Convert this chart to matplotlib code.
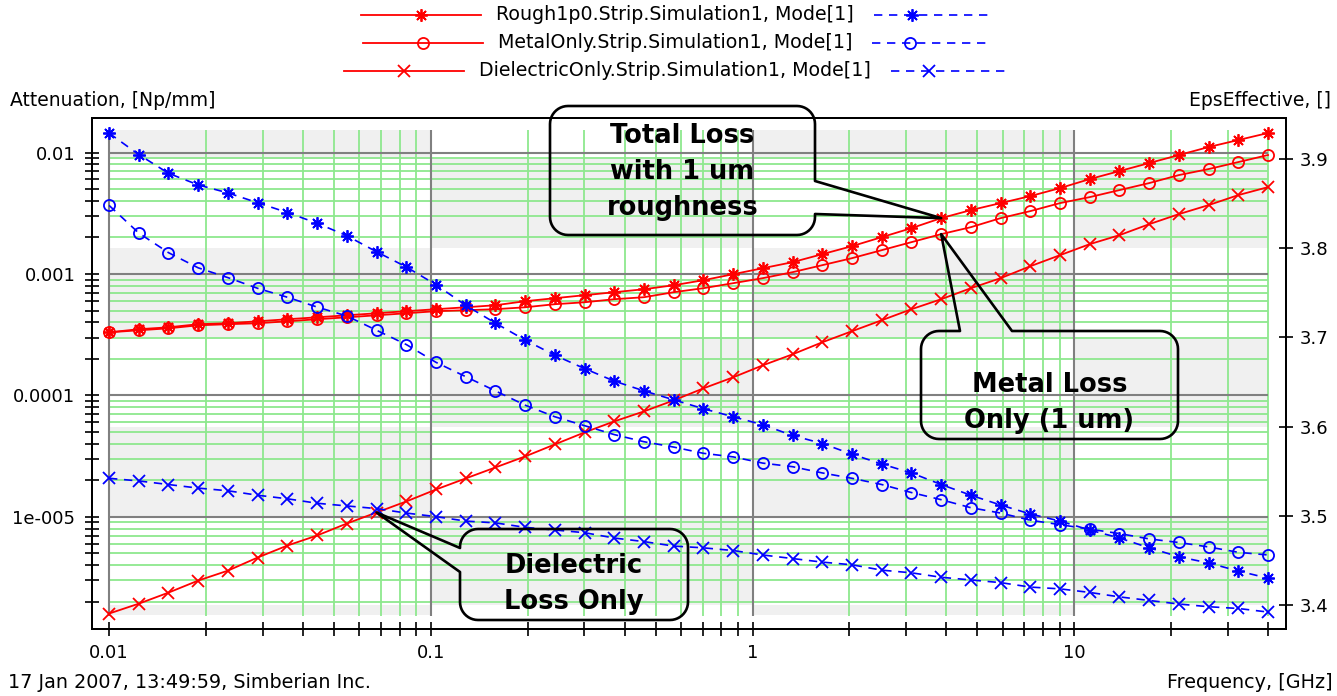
import numpy as np
import matplotlib
matplotlib.use('Agg')
import matplotlib.pyplot as plt
import matplotlib.transforms as mtransforms
from matplotlib.patches import Rectangle, Polygon
from matplotlib.ticker import FixedLocator, FixedFormatter, NullFormatter, NullLocator

# frequency points, GHz
freq = [0.01, 0.01237, 0.0153, 0.01892, 0.02341, 0.02896, 0.03583, 0.04432, 0.05482, 0.06782,
        0.08389, 0.1038, 0.1283, 0.1588, 0.1964, 0.2429, 0.3005, 0.3717, 0.4597, 0.5687,
        0.7035, 0.8703, 1.076, 1.331, 1.647, 2.037, 2.520, 3.118, 3.857, 4.771,
        5.902, 7.300, 9.031, 11.17, 13.82, 17.10, 21.14, 26.15, 32.35, 40.0]

# attenuation, Np/mm (left axis)
att_rough = [3.31e-4, 3.51e-4, 3.64e-4, 3.86e-4, 3.93e-4, 4.08e-4, 4.24e-4, 4.40e-4, 4.57e-4, 4.75e-4,
             4.94e-4, 5.13e-4, 5.32e-4, 5.53e-4, 5.97e-4, 6.32e-4, 6.69e-4, 7.08e-4, 7.49e-4, 8.08e-4,
             8.89e-4, 9.96e-4, 1.116e-3, 1.251e-3, 1.456e-3, 1.695e-3, 2.010e-3, 2.385e-3, 2.884e-3, 3.357e-3,
             3.835e-3, 4.379e-3, 5.097e-3, 6.047e-3, 7.038e-3, 8.194e-3, 9.537e-3, 1.110e-2, 1.268e-2, 1.448e-2]
att_metal = [3.31e-4, 3.44e-4, 3.57e-4, 3.78e-4, 3.86e-4, 3.93e-4, 4.08e-4, 4.24e-4, 4.40e-4, 4.57e-4,
             4.75e-4, 4.94e-4, 5.03e-4, 5.13e-4, 5.32e-4, 5.64e-4, 5.85e-4, 6.20e-4, 6.44e-4, 7.08e-4,
             7.64e-4, 8.40e-4, 9.24e-4, 1.035e-3, 1.182e-3, 1.350e-3, 1.571e-3, 1.829e-3, 2.129e-3, 2.430e-3,
             2.884e-3, 3.294e-3, 3.835e-3, 4.296e-3, 4.908e-3, 5.606e-3, 6.524e-3, 7.311e-3, 8.349e-3, 9.537e-3]
att_diel = [1.60e-6, 1.93e-6, 2.38e-6, 2.99e-6, 3.61e-6, 4.63e-6, 5.81e-6, 7.03e-6, 8.82e-6, 1.087e-5,
            1.340e-5, 1.682e-5, 2.073e-5, 2.555e-5, 3.147e-5, 3.953e-5, 4.963e-5, 6.117e-5, 7.39e-5, 9.11e-5,
            1.144e-4, 1.41e-4, 1.77e-4, 2.18e-4, 2.74e-4, 3.38e-4, 4.16e-4, 5.13e-4, 6.20e-4, 7.64e-4,
            9.24e-4, 1.159e-3, 1.429e-3, 1.761e-3, 2.089e-3, 2.573e-3, 3.112e-3, 3.692e-3, 4.464e-3, 5.19e-3]

# effective permittivity (right axis)
eps_rough = [3.929, 3.905, 3.884, 3.871, 3.862, 3.851, 3.840, 3.828, 3.814, 3.796,
             3.779, 3.759, 3.736, 3.716, 3.697, 3.680, 3.665, 3.651, 3.640, 3.630,
             3.620, 3.611, 3.602, 3.590, 3.581, 3.569, 3.558, 3.548, 3.535, 3.523,
             3.512, 3.502, 3.494, 3.484, 3.475, 3.464, 3.454, 3.447, 3.438, 3.430]
eps_metal = [3.848, 3.817, 3.795, 3.778, 3.767, 3.755, 3.745, 3.734, 3.724, 3.708,
             3.692, 3.672, 3.656, 3.640, 3.624, 3.611, 3.601, 3.591, 3.583, 3.577,
             3.570, 3.566, 3.559, 3.555, 3.548, 3.542, 3.535, 3.526, 3.518, 3.509,
             3.503, 3.495, 3.490, 3.485, 3.480, 3.474, 3.470, 3.465, 3.459, 3.456]
eps_diel = [3.542, 3.539, 3.535, 3.531, 3.528, 3.523, 3.519, 3.514, 3.511, 3.508,
            3.503, 3.499, 3.494, 3.492, 3.487, 3.484, 3.481, 3.475, 3.471, 3.466,
            3.464, 3.461, 3.456, 3.452, 3.448, 3.445, 3.439, 3.436, 3.431, 3.428,
            3.425, 3.420, 3.418, 3.414, 3.409, 3.405, 3.401, 3.398, 3.396, 3.392]

series_labels = ['Rough1p0.Strip.Simulation1, Mode[1]',
                 'MetalOnly.Strip.Simulation1, Mode[1]',
                 'DielectricOnly.Strip.Simulation1, Mode[1]']

x_ticks = [0.01, 0.1, 1, 10]
x_ticklabels = ['0.01', '0.1', '1', '10']
y_ticks = [1e-5, 1e-4, 1e-3, 1e-2]
y_ticklabels = ['1e-005', '0.0001', '0.001', '0.01']
eps_ticks = [3.4, 3.5, 3.6, 3.7, 3.8, 3.9]
eps_ticklabels = ['3.4', '3.5', '3.6', '3.7', '3.8', '3.9']

GREEN = '#8ee88e'
DARK = '#808080'
BAND = '#f0f0f0'

plt.rcParams['font.family'] = 'DejaVu Sans'
W, H = 1337, 696
fig = plt.figure(figsize=(W / 100, H / 100), dpi=100)
ax = fig.add_axes([92 / W, 1 - 629 / H, (1286 - 92) / W, (629 - 118) / H])
ax.set_xscale('log')
ax.set_yscale('log')
ax.set_xlim(0.00885, 45.5)
ax.set_ylim(1.194e-6, 0.01925)
ax2 = ax.twinx()
ax2.set_ylim(3.373, 3.946)

# grid area bounds
gx0, gx1 = 0.01, 40
gy0, gy1 = 1.54e-6, 0.0153
ey0, ey1 = 3.389, 3.9325

# checkerboard background
band_tr = mtransforms.blended_transform_factory(ax.transData, ax2.transData)
col_edges = [gx0, 0.1, 1, 10, gx1]
row_edges = [ey0] + eps_ticks + [ey1]
for c in range(len(col_edges) - 1):
    for r in range(len(row_edges) - 1):
        if (r + c) % 2 == 0:
            ax.add_patch(Rectangle((col_edges[c], row_edges[r]), col_edges[c + 1] - col_edges[c],
                                   row_edges[r + 1] - row_edges[r], transform=band_tr,
                                   fc=BAND, ec='none', zorder=0))

x_minor = [m * 10.0 ** k for k in range(-2, 2) for m in range(2, 10) if m * 10.0 ** k <= gx1 * 1.001]
y_minor = [m * 10.0 ** k for k in range(-7, -1) for m in range(2, 10)]
y_minor_grid = [v for v in y_minor if gy0 < v < gy1]
ax.vlines(x_minor, gy0, gy1, colors=GREEN, lw=1.3, zorder=1)
ax.hlines(y_minor_grid, gx0, gx1, colors=GREEN, lw=1.3, zorder=1)
ax.vlines(x_ticks, gy0, gy1, colors=DARK, lw=1.5, zorder=1.5)
ax.hlines(y_ticks, gx0, gx1, colors=DARK, lw=1.5, zorder=1.5)

markers = [(8, 2, 0), 'o', 'x']
msizes = [9, 8, 9]
att_series = [att_rough, att_metal, att_diel]
eps_series = [eps_rough, eps_metal, eps_diel]
DASH = (0, (5, 4))

for att, mk, ms in zip(att_series, markers, msizes):
    ax.plot(freq, att, color='red', lw=1.3, marker=mk, ms=ms, mfc='none', mew=1.3, zorder=5)
for eps, mk, ms in zip(eps_series, markers, msizes):
    ax2.plot(freq, eps, color='blue', lw=1.2, ls=DASH, marker=mk, ms=ms, mfc='none', mew=1.3, zorder=5)

# ticks
ax.xaxis.set_major_locator(FixedLocator(x_ticks))
ax.xaxis.set_major_formatter(FixedFormatter(x_ticklabels))
ax.xaxis.set_minor_locator(FixedLocator(x_minor))
ax.xaxis.set_minor_formatter(NullFormatter())
ax.yaxis.set_major_locator(FixedLocator(y_ticks))
ax.yaxis.set_major_formatter(FixedFormatter(y_ticklabels))
ax.yaxis.set_minor_locator(FixedLocator(y_minor))
ax.yaxis.set_minor_formatter(NullFormatter())
ax.tick_params(which='both', direction='inout', length=10, width=1.2, labelsize=13, top=False, right=False)
ax.tick_params(axis='x', pad=6)
ax.tick_params(axis='y', pad=7)
ax2.yaxis.set_major_locator(FixedLocator(eps_ticks))
ax2.yaxis.set_major_formatter(FixedFormatter(eps_ticklabels))
ax2.yaxis.set_minor_locator(NullLocator())
ax2.tick_params(axis='y', direction='inout', length=10, width=1.2, labelsize=13, pad=5)
for a in (ax, ax2):
    for s in a.spines.values():
        s.set_linewidth(1.4)
        s.set_color('black')

fig.text(10 / W, 1 - 100 / H, 'Attenuation, [Np/mm]', fontsize=13.5, va='center', ha='left')
fig.text(1331 / W, 1 - 100 / H, 'EpsEffective, []', fontsize=13.5, va='center', ha='right')
fig.text(8 / W, 1 - 683 / H, '17 Jan 2007, 13:49:59, Simberian Inc.', fontsize=13.8, va='center', ha='left')
fig.text(1333 / W, 1 - 683 / H, 'Frequency, [GHz]', fontsize=13.8, va='center', ha='right')

# overlay in pixel coordinates for legend and callouts
ov = fig.add_axes([0, 0, 1, 1], zorder=10)
ov.set_xlim(0, W)
ov.set_ylim(H, 0)
ov.axis('off')
ov.patch.set_visible(False)


def to_px(a, x, y):
    return ov.transData.inverted().transform(a.transData.transform((x, y)))


def callout(x0, y0, x1, y1, side, b1, b2, tip, text, cy, r=18):
    def arc(cx, cyy, a0, a1):
        t = np.linspace(a0, a1, 12)
        return list(zip(cx + r * np.cos(t), cyy + r * np.sin(t)))
    tip = tuple(tip)
    top = [(x0 + r, y0), (x1 - r, y0)]
    right = [(x1, y0 + r), (x1, y1 - r)]
    bottom = [(x1 - r, y1), (x0 + r, y1)]
    left = [(x0, y1 - r), (x0, y0 + r)]
    if side == 'top':
        top = [top[0], (b1, y0), tip, (b2, y0), top[1]]
    elif side == 'right':
        right = [right[0], (x1, b1), tip, (x1, b2), right[1]]
    elif side == 'left':
        left = [left[0], (x0, b2), tip, (x0, b1), left[1]]
    pts = (top + arc(x1 - r, y0 + r, -np.pi / 2, 0) + right + arc(x1 - r, y1 - r, 0, np.pi / 2)
           + bottom + arc(x0 + r, y1 - r, np.pi / 2, np.pi) + left
           + arc(x0 + r, y0 + r, np.pi, 1.5 * np.pi))
    ov.add_patch(Polygon(pts, closed=True, fill=False, ec='black', lw=1.9, joinstyle='round'))
    ov.text((x0 + x1) / 2, cy, text, ha='center', va='center', fontsize=18.5,
            fontweight='bold', linespacing=1.5)


callout(550, 106, 815, 235, 'right', 181, 214, to_px(ax, freq[28], att_rough[28]),
        'Total Loss\nwith 1 um\nroughness', 172)
callout(921, 331, 1178, 439, 'top', 960, 1012, to_px(ax, freq[28], att_metal[28]),
        'Metal Loss\nOnly (1 um)', 403)
callout(460, 529, 688, 620, 'left', 548, 572, to_px(ax, freq[9], att_diel[9]),
        'Dielectric\nLoss Only', 584)

# legend
fig.canvas.draw()
renderer = fig.canvas.get_renderer()
legend_y = [15, 43, 71]
for label, mk, ms, y in zip(series_labels, markers, msizes, legend_y):
    t = ov.text(675, y, label, ha='center', va='center', fontsize=13.7)
    bb = t.get_window_extent(renderer)
    ov.plot([bb.x0 - 135, bb.x0 - 15], [y, y], color='red', lw=1.3)
    ov.plot([bb.x0 - 75], [y], color='red', marker=mk, ms=ms, mfc='none', mew=1.3)
    ov.plot([bb.x1 + 20, bb.x1 + 136], [y, y], color='blue', lw=1.2, ls=DASH)
    ov.plot([bb.x1 + 58], [y], color='blue', marker=mk, ms=ms, mfc='none', mew=1.3)

fig.savefig('out.png', dpi=100)
